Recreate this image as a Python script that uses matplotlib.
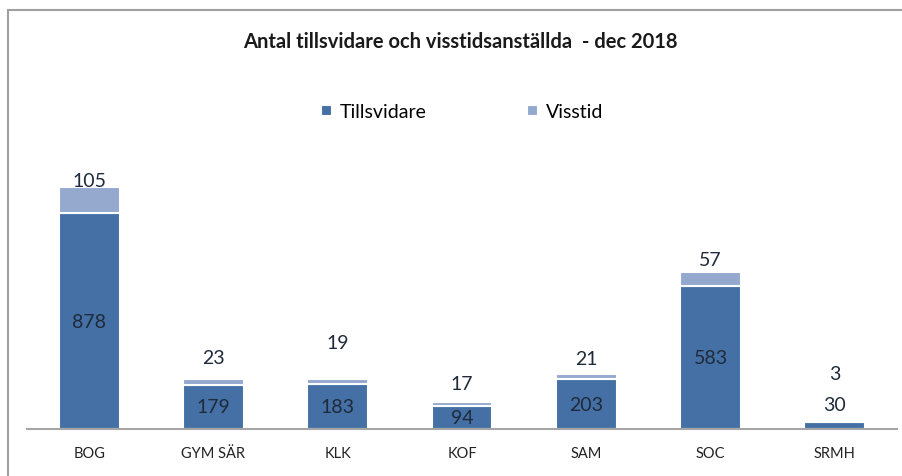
import numpy as np
import matplotlib
matplotlib.use('Agg')
from matplotlib import pyplot as plt
from matplotlib.lines import Line2D

plt.rcParams['font.family'] = ['Lato', 'DejaVu Sans']

# data
kategorier = ['BOG', 'GYM SÄR', 'KLK', 'KOF', 'SAM', 'SOC', 'SRMH']
tillsvidare = [878, 179, 183, 94, 203, 583, 30]
visstid = [105, 23, 19, 17, 21, 57, 3]

# label offsets above bar tops (pixels)
visstid_lift = [7, 22, 37, 18, 15, 12, 47]

dark = '#4470a5'
light = '#95a9cf'

fig = plt.figure(figsize=(9.02, 4.77), dpi=100)
ax = fig.add_axes([27 / 902, 47 / 477, 870 / 902, 246 / 477])

x = np.arange(len(kategorier))
tv = np.array(tillsvidare)
vs = np.array(visstid)

b1 = ax.bar(x, tv, width=0.49, color=dark, edgecolor='white', linewidth=1.5, label='Tillsvidare')
b2 = ax.bar(x, vs, width=0.49, bottom=tv, color=light, edgecolor='white', linewidth=1.5, label='Visstid')

ax.set_xlim(-0.5, 6.5)
ax.set_ylim(0, 1000)

# etiketter
fs = 14
for i in range(len(x)):
    if tv[i] > 60:
        ax.text(x[i], tv[i] / 2, str(tv[i]), ha='center', va='center', fontsize=fs, color='#1f2a3a')
    else:
        ax.annotate(str(tv[i]), (x[i], tv[i]), xytext=(0, 17 * 0.72), textcoords='offset points',
                    ha='center', va='center', fontsize=fs, color='#1f2a3a')
    ax.annotate(str(vs[i]), (x[i], tv[i] + vs[i]), xytext=(0, visstid_lift[i] * 0.72),
                textcoords='offset points', ha='center', va='center', fontsize=fs, color='#1f2a3a')

for s in ['top', 'right', 'left']:
    ax.spines[s].set_visible(False)
ax.spines['bottom'].set_color('#a6a6a6')
ax.spines['bottom'].set_linewidth(1.5)
ax.set_yticks([])
ax.set_xticks(x)
ax.set_xticklabels(kategorier, fontsize=10.5, color='#222222')
ax.tick_params(axis='x', length=0, pad=12)

fig.text(460 / 902, 1 - 42 / 477, 'Antal tillsvidare och visstidsanställda  - dec 2018',
         ha='center', va='center', fontsize=14.5, fontweight='bold', color='#1a1a1a')

fig.legend(handles=[b1, b2], loc='center', bbox_to_anchor=(462 / 902, 1 - 113 / 477), ncol=2,
           frameon=False, fontsize=14, handlelength=0.55, handleheight=0.55,
           handletextpad=0.4, columnspacing=5.2)

# ram
fig.add_artist(Line2D([8 / 902, 1], [1 - 11 / 477, 1 - 11 / 477], transform=fig.transFigure, color='#a0a0a0', lw=1.5))
fig.add_artist(Line2D([8 / 902, 8 / 902], [0, 1 - 11 / 477], transform=fig.transFigure, color='#a0a0a0', lw=1.5))

fig.savefig('out.png', dpi=100)
